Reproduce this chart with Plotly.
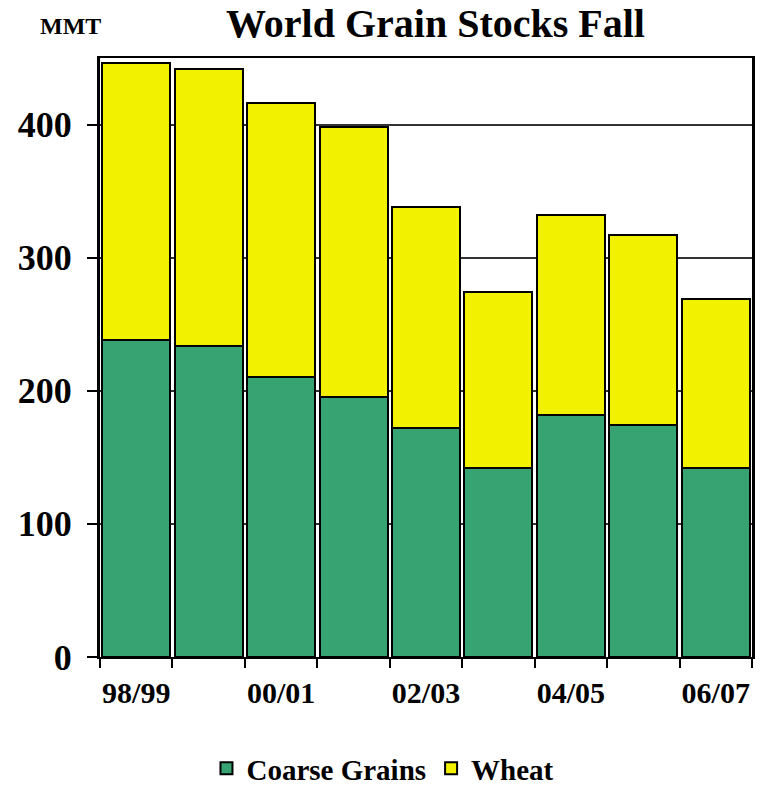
import plotly.graph_objects as go

categories = ["98/99", "99/00", "00/01", "01/02", "02/03", "03/04", "04/05", "05/06", "06/07"]
coarse_grains = [238, 234, 210, 195, 172, 142, 182, 174, 142]
wheat = [208, 208, 206, 203, 166, 132, 150, 143, 127]
y_ticks = [0, 100, 200, 300, 400]

x = list(range(len(categories)))
FONT = "Liberation Serif"

fig = go.Figure()
fig.add_bar(x=x, y=coarse_grains, name="Coarse Grains",
            marker=dict(color="#37a272", line=dict(color="black", width=2)))
fig.add_bar(x=x, y=wheat, name="Wheat",
            marker=dict(color="#f2f200", line=dict(color="black", width=2)))

fig.update_layout(
    width=761, height=787,
    barmode="stack", bargap=0.06,
    plot_bgcolor="white", paper_bgcolor="white",
    margin=dict(l=100, r=9, t=58, b=130, autoexpand=False),
    font=dict(family=FONT, color="black", weight="bold"),
    showlegend=True,
    legend=dict(orientation="h", x=0.434, xanchor="center", y=-0.186, yanchor="middle",
                font=dict(size=29, family=FONT, weight="bold"), traceorder="normal",
                itemwidth=30),
    annotations=[
        dict(text="World Grain Stocks Fall", xref="paper", yref="paper",
             x=0.514, y=1.0, yshift=35, xanchor="center", yanchor="middle", showarrow=False,
             font=dict(size=40, family=FONT, weight="bold")),
        dict(text="MMT", xref="paper", yref="paper", x=-0.046, y=1.0, yshift=32,
             xanchor="center", yanchor="middle", showarrow=False,
             font=dict(size=24, family=FONT, weight="bold")),
    ],
)

fig.update_xaxes(
    range=[-0.5, len(categories) - 0.5], automargin=False,
    tickmode="array", tickvals=x[::2], ticktext=categories[::2],
    ticks="", tickfont=dict(size=30, family=FONT, weight="bold"),
    ticklabelstandoff=8,
    showgrid=False, showline=True, linecolor="black", linewidth=2, mirror=True,
    minor=dict(tickmode="array", tickvals=[i - 0.5 for i in range(len(categories) + 1)],
               ticks="outside", ticklen=9, tickwidth=2, tickcolor="black", showgrid=False),
    zeroline=False,
)
fig.update_yaxes(
    range=[0, 450], tickmode="array", tickvals=y_ticks, automargin=False,
    ticks="outside", ticklen=10, tickwidth=2, tickcolor="black",
    tickfont=dict(size=36, family=FONT, weight="bold"),
    ticklabelstandoff=8,
    showgrid=True, gridcolor="#333333", gridwidth=2,
    showline=True, linecolor="black", linewidth=3, mirror=True,
    zeroline=False,
)

fig.write_html("out.html", config={"displayModeBar": False},
               post_script="document.body.style.margin='0px';")
